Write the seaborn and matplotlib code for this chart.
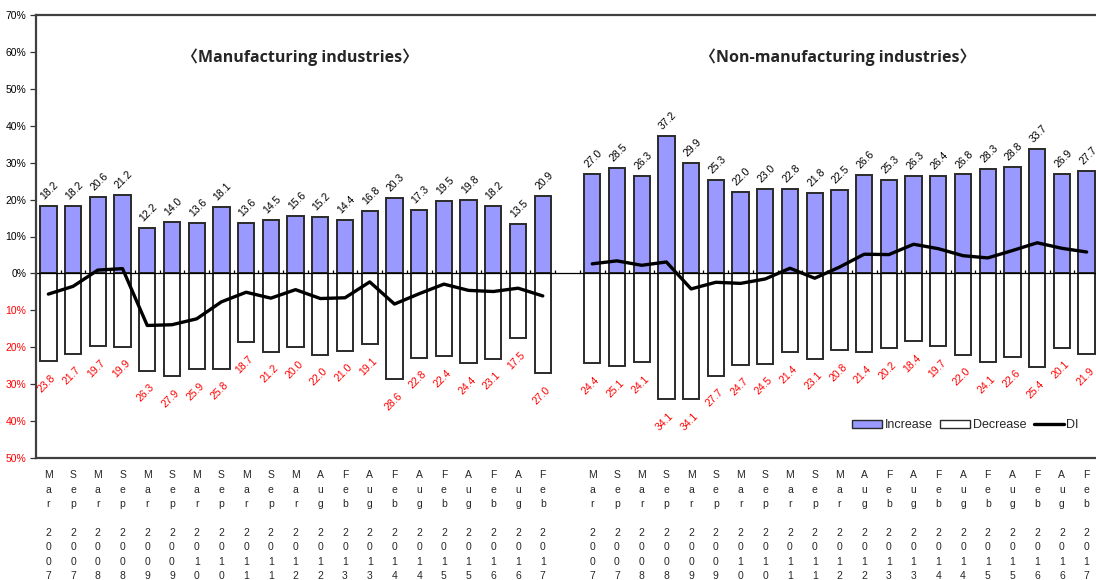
import matplotlib
matplotlib.use("Agg")
import matplotlib.pyplot as plt
import numpy as np
import pandas as pd
import seaborn as sns
from matplotlib.patches import Patch
from matplotlib.lines import Line2D

sns.set_theme(style="white")
plt.rcParams["font.family"] = ["Liberation Sans", "DejaVu Sans"]

PERIODI = ["Mar 2007", "Sep 2007", "Mar 2008", "Sep 2008", "Mar 2009", "Sep 2009",
           "Mar 2010", "Sep 2010", "Mar 2011", "Sep 2011", "Mar 2012", "Aug 2012",
           "Feb 2013", "Aug 2013", "Feb 2014", "Aug 2014", "Feb 2015", "Aug 2015",
           "Feb 2016", "Aug 2016", "Feb 2017"]

PROIZV_RAST = [18.2, 18.2, 20.6, 21.2, 12.2, 14.0, 13.6, 18.1, 13.6, 14.5, 15.6,
               15.2, 14.4, 16.8, 20.3, 17.3, 19.5, 19.8, 18.2, 13.5, 20.9]
PROIZV_PAD = [23.8, 21.7, 19.7, 19.9, 26.3, 27.9, 25.9, 25.8, 18.7, 21.2, 20.0,
              22.0, 21.0, 19.1, 28.6, 22.8, 22.4, 24.4, 23.1, 17.5, 27.0]
NEPROIZV_RAST = [27.0, 28.5, 26.3, 37.2, 29.9, 25.3, 22.0, 23.0, 22.8, 21.8, 22.5,
                 26.6, 25.3, 26.3, 26.4, 26.8, 28.3, 28.8, 33.7, 26.9, 27.7]
NEPROIZV_PAD = [24.4, 25.1, 24.1, 34.1, 34.1, 27.7, 24.7, 24.5, 21.4, 23.1, 20.8,
                21.4, 20.2, 18.4, 19.7, 22.0, 24.1, 22.6, 25.4, 20.1, 21.9]

BOJA_RAST = "#9999FF"
RUB = "#2a2a2a"

# tablica: lijevi blok, prazno mjesto, desni blok
n = len(PERIODI)
kljucevi = [f"L{i}" for i in range(n)] + ["gap"] + [f"R{i}" for i in range(n)]
df = pd.DataFrame({
    "kljuc": [f"L{i}" for i in range(n)] + [f"R{i}" for i in range(n)],
    "poz": list(range(n)) + list(range(n + 1, 2 * n + 1)),
    "rast": PROIZV_RAST + NEPROIZV_RAST,
    "pad": PROIZV_PAD + NEPROIZV_PAD,
    "blok": ["L"] * n + ["R"] * n,
})
df["di"] = df["rast"] - df["pad"]

fig = plt.figure(figsize=(10.96, 5.8), dpi=100)
ax = fig.add_axes([36 / 1096, 1 - 458 / 580, 1063 / 1096, 443 / 580])

sns.barplot(data=df, x="kljuc", y="rast", order=kljucevi, color=BOJA_RAST,
            edgecolor=RUB, linewidth=1.4, width=0.66, saturation=1, ax=ax)
sns.barplot(data=df.assign(neg=-df["pad"]), x="kljuc", y="neg", order=kljucevi,
            color="white", edgecolor=RUB, linewidth=1.4, width=0.66, saturation=1, ax=ax)
for b in ["L", "R"]:
    d = df[df["blok"] == b]
    ax.plot(d["poz"], d["di"], color="black", lw=2.4, solid_joinstyle="round")

for _, r in df.iterrows():
    ax.annotate(f"{r['rast']:.1f}", (r["poz"], r["rast"]), xytext=(1, 11),
                textcoords="offset points", ha="center", va="center", rotation=45,
                fontsize=7.5, color="black")
    ax.annotate(f"{r['pad']:.1f}", (r["poz"], -r["pad"]), xytext=(-1, -16),
                textcoords="offset points", ha="center", va="center", rotation=45,
                fontsize=7.5, color="red")

ax.axhline(0, color="black", lw=0.9)
granice = [i + 0.5 for i in range(2 * n)]
ax.vlines(granice, 0, 0.9, color="black", lw=0.9)

ax.set_xlim(-0.5, 2 * n + 0.5)
ax.set_ylim(-50, 70)
yt = list(range(-50, 71, 10))
ax.set_yticks(yt)
ax.set_yticklabels([f"{abs(v)}%" for v in yt], fontsize=7.5)
for lab, v in zip(ax.get_yticklabels(), yt):
    lab.set_color("red" if v < 0 else "black")
ax.tick_params(axis="y", length=4, width=0.9, color="#333333", pad=3, left=True)

oznake = ["\n".join(p.split()[0]) + "\n\n" + "\n".join(p.split()[1]) for p in PERIODI]
ax.set_xticks(range(len(kljucevi)))
ax.set_xticklabels(oznake + [""] + oznake, fontsize=7.5, linespacing=1.55, va="top")
ax.tick_params(axis="x", length=0, pad=9)
ax.set(xlabel="", ylabel="")

for s in ["left", "top", "bottom"]:
    ax.spines[s].set_color("#404040")
    ax.spines[s].set_linewidth(1.6)
ax.spines["right"].set_visible(False)

ruke = [Patch(facecolor=BOJA_RAST, edgecolor=RUB, lw=1.0),
        Patch(facecolor="white", edgecolor=RUB, lw=1.0),
        Line2D([0], [0], color="black", lw=2.4)]
fig.legend(ruke, ["Increase", "Decrease", "DI"], loc="center right",
           bbox_to_anchor=(1090 / 1096, 1 - 425 / 580), ncol=3, frameon=False,
           fontsize=9, handlelength=2.4, handleheight=0.6, handletextpad=0.2,
           columnspacing=0.6)

naslov = dict(fontsize=11.5, fontweight="bold", ha="center", va="center",
              family=["Open Sans", "Noto Sans CJK JP"])
fig.text(300 / 1096, 1 - 57 / 580, "〈Manufacturing industries〉", **naslov)
fig.text(838 / 1096, 1 - 57 / 580, "〈Non-manufacturing industries〉", **naslov)

fig.savefig("out.png", dpi=100)
